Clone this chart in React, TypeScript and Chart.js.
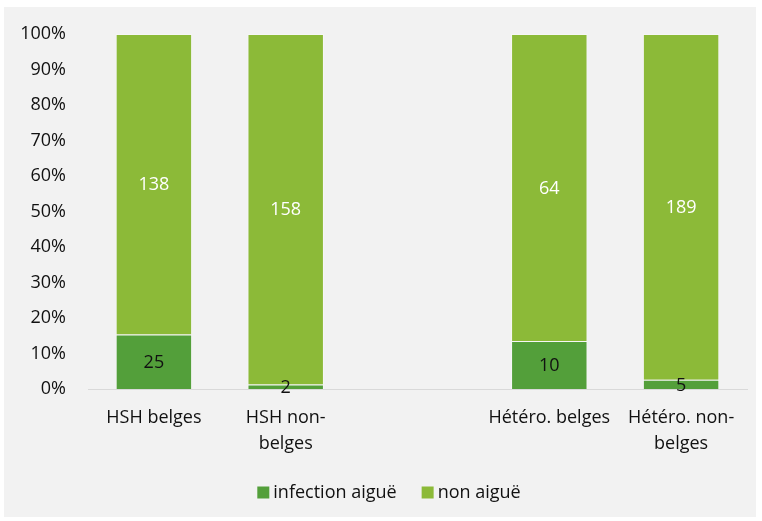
import React, { useEffect, useRef } from "react";
import { Chart, registerables } from "chart.js";

Chart.register(...registerables);

const categories: (string | string[])[] = [
  "HSH belges",
  ["HSH non-", "belges"],
  "",
  "Hétéro. belges",
  ["Hétéro. non-", "belges"],
];
const acuteCounts: (number | null)[] = [25, 2, null, 10, 5];
const nonAcuteCounts: (number | null)[] = [138, 158, null, 64, 189];
const seriesNames = ["infection aiguë", "non aiguë"];
const seriesColors = ["#539F3A", "#8CBA38"];
const yTicks = [0, 10, 20, 30, 40, 50, 60, 70, 80, 90, 100];

const FONT = "'Open Sans', 'Noto Sans', sans-serif";
const TEXT = "#111111";

function pct(part: (number | null)[], other: (number | null)[]) {
  return part.map((v, i) => {
    const o = other[i];
    if (v == null || o == null) return null;
    return (v / (v + o)) * 100;
  });
}

const labelPlugin = {
  id: "segLabels",
  afterDatasetsDraw(chart: any) {
    const ctx = chart.ctx;
    const counts = [acuteCounts, nonAcuteCounts];
    const colors = [TEXT, "#ffffff"];
    ctx.save();
    ctx.font = `18px ${FONT}`;
    ctx.textAlign = "center";
    ctx.textBaseline = "middle";
    chart.data.datasets.forEach((_ds: any, di: number) => {
      const meta = chart.getDatasetMeta(di);
      meta.data.forEach((el: any, i: number) => {
        const v = counts[di][i];
        if (v == null) return;
        const cy = (el.y + el.base) / 2;
        ctx.fillStyle = colors[di];
        ctx.fillText(String(v), el.x, cy + 1);
      });
    });
    ctx.restore();
  },
};

const legendPlugin = {
  id: "customLegend",
  afterDraw(chart: any) {
    const ctx = chart.ctx;
    ctx.save();
    ctx.font = `18px ${FONT}`;
    ctx.textBaseline = "middle";
    ctx.textAlign = "left";
    const box = 12;
    const gapBoxText = 4;
    const gapItems = 25;
    const widths = seriesNames.map((n) => ctx.measureText(n).width);
    const total =
      widths.reduce((a, w) => a + box + gapBoxText + w, 0) + gapItems * (seriesNames.length - 1);
    let x = 385 - total / 2;
    const cy = 485.5;
    seriesNames.forEach((n, i) => {
      ctx.fillStyle = seriesColors[i];
      ctx.fillRect(x, cy - box / 2, box, box);
      ctx.fillStyle = TEXT;
      ctx.fillText(n, x + box + gapBoxText, cy);
      x += box + gapBoxText + widths[i] + gapItems;
    });
    ctx.restore();
  },
};

export default function App() {
  const ref = useRef<HTMLCanvasElement | null>(null);
  useEffect(() => {
    if (!ref.current) return;
    const chart = new Chart(ref.current, {
      type: "bar",
      data: {
        labels: categories as any,
        datasets: seriesNames.map((name, di) => ({
          label: name,
          data: (di === 0
            ? pct(acuteCounts, nonAcuteCounts)
            : pct(nonAcuteCounts, acuteCounts)) as any,
          backgroundColor: seriesColors[di],
          borderColor: "rgba(255,255,255,0.35)",
          borderWidth: 1,
          barPercentage: 0.58,
          categoryPercentage: 1,
        })),
      },
      options: {
        animation: false,
        responsive: false,
        maintainAspectRatio: false,
        layout: { padding: { top: 27, right: 9, bottom: 45, left: 0 } },
        plugins: {
          tooltip: { enabled: false },
          legend: { display: false },
        },
        scales: {
          x: {
            stacked: true,
            grid: { display: false, drawTicks: false },
            border: { display: true, color: "#d9d9d9", width: 1 },
            ticks: {
              color: TEXT,
              font: { family: FONT, size: 18, lineHeight: "26px" as any },
              padding: 16,
              maxRotation: 0,
              autoSkip: false,
            },
            afterFit: (s: any) => {
              s.height = 83;
              s.paddingLeft = 0;
              s.paddingRight = 0;
            },
          },
          y: {
            stacked: true,
            min: 0,
            max: 100,
            grid: { display: false, drawTicks: false },
            border: { display: false },
            afterBuildTicks: (s: any) => {
              s.ticks = yTicks.map((v) => ({ value: v }));
            },
            ticks: {
              color: TEXT,
              font: { family: FONT, size: 18 },
              padding: 22,
              callback: (v: any) => `${v}%`,
            },
            afterFit: (s: any) => {
              s.width = 84;
              s.paddingTop = 0;
              s.paddingBottom = 0;
            },
          },
        },
      },
      plugins: [labelPlugin, legendPlugin],
    });
    return () => chart.destroy();
  }, []);
  return (
    <div
      style={{
        position: "absolute",
        left: 4,
        top: 7,
        width: 752,
        height: 510,
        background: "#f2f2f2",
      }}
    >
      <canvas ref={ref} width={752} height={510} style={{ display: "block" }} />
    </div>
  );
}
